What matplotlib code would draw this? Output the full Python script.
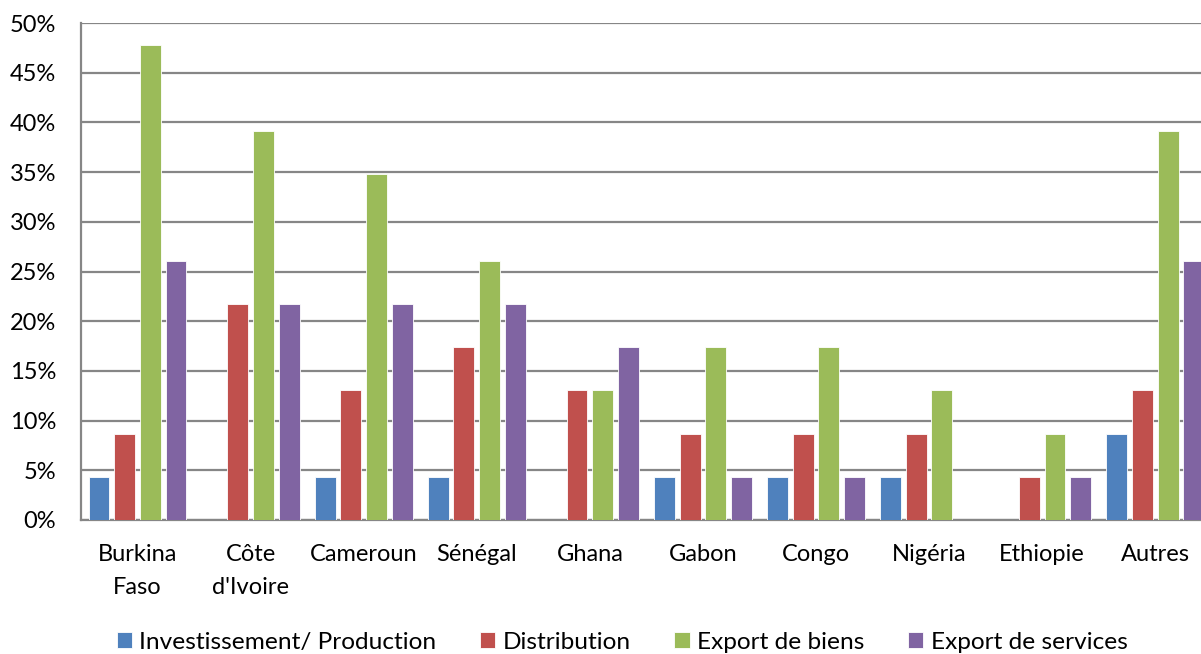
import numpy as np
import matplotlib.pyplot as plt
from matplotlib.ticker import PercentFormatter

plt.rcParams['font.family'] = ['Lato', 'DejaVu Sans']

# categories and series (share of firms, %)
pays = ["Burkina\nFaso", "Côte\nd'Ivoire", "Cameroun", "Sénégal", "Ghana",
        "Gabon", "Congo", "Nigéria", "Ethiopie", "Autres"]
investissement = [4.35, 0, 4.35, 4.35, 0, 4.35, 4.35, 4.35, 0, 8.70]
distribution = [8.70, 21.74, 13.04, 17.39, 13.04, 8.70, 8.70, 8.70, 4.35, 13.04]
export_biens = [47.83, 39.13, 34.78, 26.09, 13.04, 17.39, 17.39, 13.04, 8.70, 39.13]
export_services = [26.09, 21.74, 21.74, 21.74, 17.39, 4.35, 4.35, 0, 4.35, 26.09]

series = [
    ("Investissement/ Production", investissement, "#4F81BD"),
    ("Distribution", distribution, "#C0504D"),
    ("Export de biens", export_biens, "#9BBB59"),
    ("Export de services", export_services, "#8064A2"),
]

fig = plt.figure(figsize=(12.01, 6.54), dpi=100)
# chart is cropped on the right in the original, so axes run past the figure edge
ax = fig.add_axes([0.0674, 0.2049, 0.9416, 0.7599])

x = np.arange(len(pays))
w = 0.185
step = 0.227
for i, (name, vals, col) in enumerate(series):
    ax.bar(x + (i - 1.5) * step, vals, w, color=col, label=name,
           edgecolor="white", linewidth=0.6, zorder=3)

ax.set_xlim(-0.5, len(pays) - 0.5)
ax.set_ylim(0, 50)
ax.set_yticks(np.arange(0, 51, 5))
ax.yaxis.set_major_formatter(PercentFormatter(decimals=0))
ax.set_xticks(x)
ax.set_xticklabels(pays, fontsize=17, linespacing=1.7)
ax.tick_params(axis="y", labelsize=17, length=0, pad=18)
ax.tick_params(axis="x", length=0, pad=17)

ax.grid(axis="y", color="#868686", linewidth=1.6, zorder=0)
for s in ["top", "right"]:
    ax.spines[s].set_visible(False)
ax.spines["left"].set_color("#868686")
ax.spines["left"].set_linewidth(1.6)
ax.spines["bottom"].set_color("#868686")
ax.spines["bottom"].set_linewidth(1.6)

fig.legend(loc="center", bbox_to_anchor=(0.518, 0.018), ncol=4, frameon=False,
           fontsize=17.6, handlelength=0.63, handleheight=0.63, handletextpad=0.3,
           columnspacing=1.78)

fig.savefig("out.png", dpi=100)
